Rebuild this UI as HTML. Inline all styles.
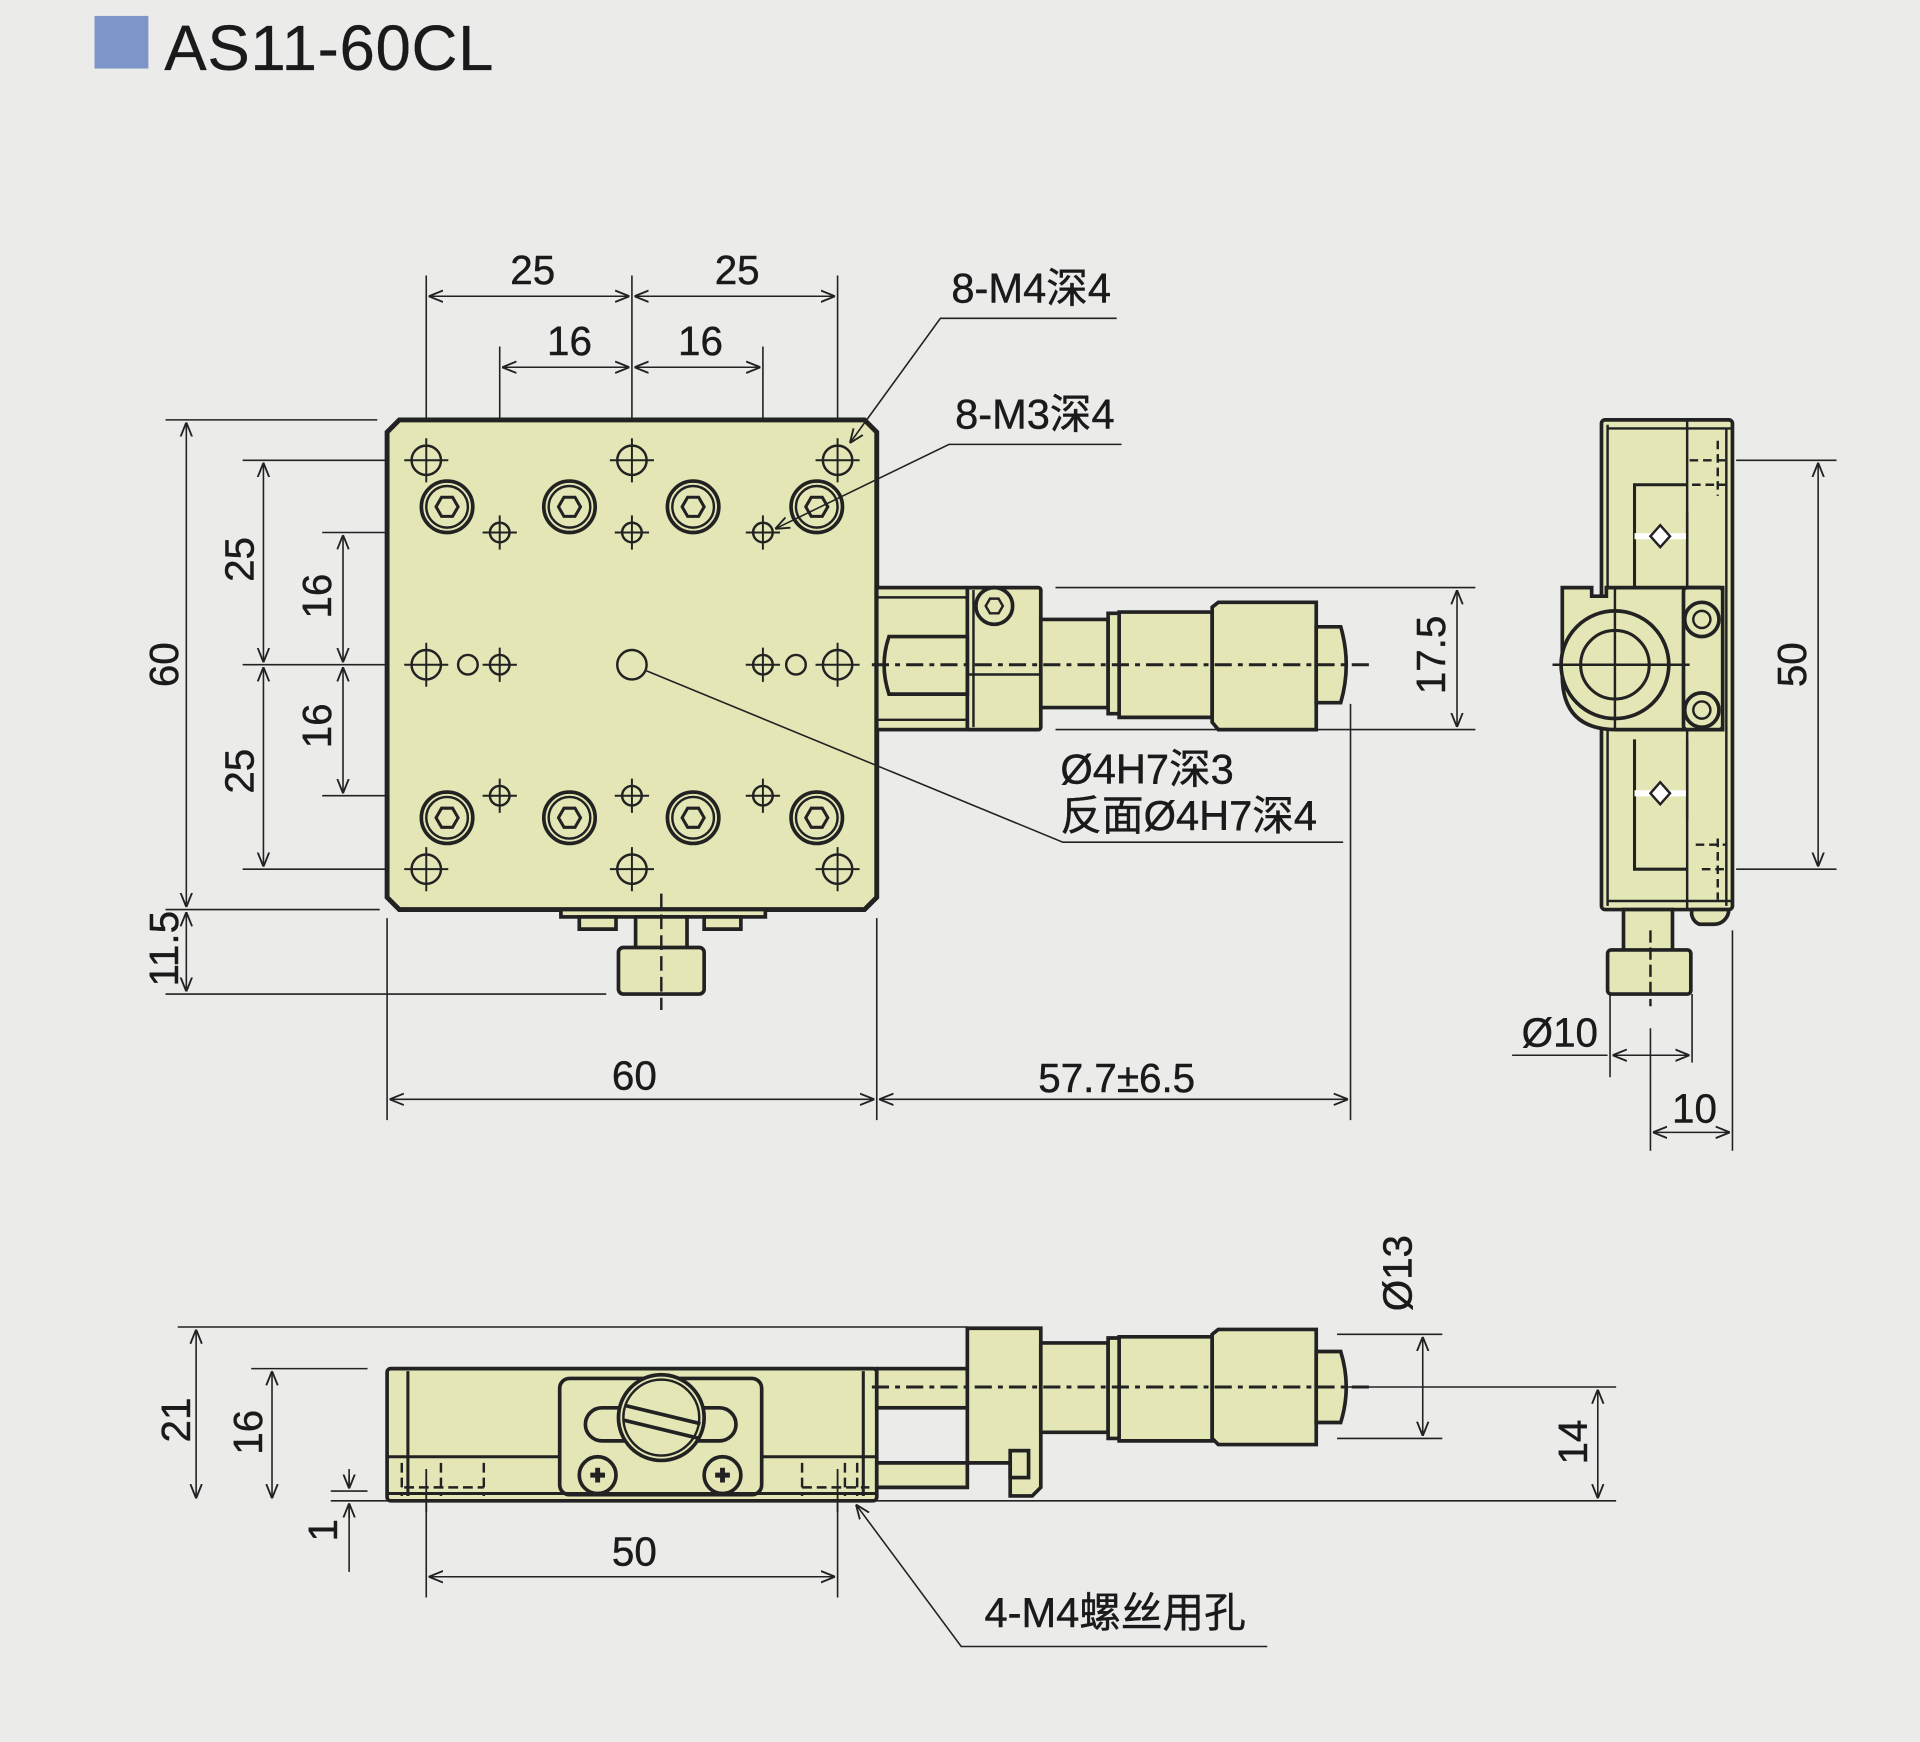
<!DOCTYPE html>
<html><head><meta charset="utf-8"><style>
html,body{margin:0;padding:0;background:#ebebea;}
svg{display:block}
text{font-family:"Liberation Sans","Noto Sans CJK SC",sans-serif;fill:#1a1a1a;stroke:#1a1a1a;stroke-width:0.35}
</style></head><body>
<svg width="1920" height="1742" viewBox="0 0 1568 1423" xmlns="http://www.w3.org/2000/svg">
<defs>
<marker id="a" viewBox="0 0 10 10" refX="10" refY="5" markerWidth="9" markerHeight="9" orient="auto-start-reverse"><path d="M0,1 L10,5 L0,9" fill="none" stroke="#222" stroke-width="1.3"/></marker>
<g id="cap"><circle r="21" fill="#e4e6b6" stroke="#222" stroke-width="3"/><circle r="17" fill="none" stroke="#222" stroke-width="2"/><polygon points="9,0 4.5,7.8 -4.5,7.8 -9,0 -4.5,-7.8 4.5,-7.8" fill="none" stroke="#222" stroke-width="2.5"/></g>
<g id="m4"><circle r="12" fill="none" stroke="#222" stroke-width="2"/><path d="M-18,0H18M0,-18V18" stroke="#222" stroke-width="1.6"/></g>
<g id="m3"><circle r="8" fill="none" stroke="#222" stroke-width="2"/><path d="M-14,0H14M0,-14V14" stroke="#222" stroke-width="1.6"/></g>
</defs>
<rect width="1568" height="1423" fill="#ebebea"/>
<rect x="77" y="13" width="44" height="43" fill="#7d95c8"/>
<text x="134" y="57" font-size="52" letter-spacing="0.5" style="stroke-width:0.2">AS11-60CL</text>

<g stroke="#222" fill="none" stroke-width="1.3">
<path d="M348,225V376M516,225V543M684,225V376M408,283V435M623,283V435"/>
<path d="M350,242H514" marker-start="url(#a)" marker-end="url(#a)"/>
<path d="M518,242H682" marker-start="url(#a)" marker-end="url(#a)"/>
<path d="M410,300H514" marker-start="url(#a)" marker-end="url(#a)"/>
<path d="M518,300H621" marker-start="url(#a)" marker-end="url(#a)"/>
<path d="M135,343H308M198,376H348M263,435H408M198,543H348M263,650H408M198,710H348M135,743H310M135,812H495"/>
<path d="M152,345V741" marker-start="url(#a)" marker-end="url(#a)"/>
<path d="M215,378V541" marker-start="url(#a)" marker-end="url(#a)"/>
<path d="M215,545V708" marker-start="url(#a)" marker-end="url(#a)"/>
<path d="M280,437V541" marker-start="url(#a)" marker-end="url(#a)"/>
<path d="M280,545V648" marker-start="url(#a)" marker-end="url(#a)"/>
<path d="M152,745V810" marker-start="url(#a)" marker-end="url(#a)"/>
<path d="M316,750V915M716,750V915M1103,575V915"/>
<path d="M318,898H714" marker-start="url(#a)" marker-end="url(#a)"/>
<path d="M718,898H1101" marker-start="url(#a)" marker-end="url(#a)"/>
<path d="M862,480H1205M862,596H1205"/>
<path d="M1190,482V594" marker-start="url(#a)" marker-end="url(#a)"/>
</g>
<g font-size="33" text-anchor="middle">
<text x="435" y="232">25</text><text x="602" y="232">25</text>
<text x="465" y="290">16</text><text x="572" y="290">16</text>
<text x="518" y="890">60</text><text x="912" y="892">57.7±6.5</text>
<text transform="translate(145,543) rotate(-90)">60</text>
<text transform="translate(207,457) rotate(-90)">25</text>
<text transform="translate(207,630) rotate(-90)">25</text>
<text transform="translate(270,487) rotate(-90)">16</text>
<text transform="translate(270,593) rotate(-90)">16</text>
<text transform="translate(145,775) rotate(-90)">11.5</text>
<text transform="translate(1180,535) rotate(-90)">17.5</text>
</g>
<g font-size="34">
<text x="777" y="247">8-M4深4</text>
<text x="780" y="350">8-M3深4</text>
<text x="866" y="640">Ø4H7深3</text>
<text x="866" y="678">反面Ø4H7深4</text>
</g>

<path d="M326,343H706L716,353V733L706,743H326L316,733V353Z" fill="#e4e6b6" stroke="#222" stroke-width="4"/>
<use href="#m4" x="348" y="376"/><use href="#m4" x="516" y="376"/><use href="#m4" x="684" y="376"/>
<use href="#m4" x="348" y="710"/><use href="#m4" x="516" y="710"/><use href="#m4" x="684" y="710"/>
<use href="#m4" x="348" y="543"/><use href="#m4" x="684" y="543"/>
<use href="#m3" x="408" y="435"/><use href="#m3" x="516" y="435"/><use href="#m3" x="623" y="435"/>
<use href="#m3" x="408" y="650"/><use href="#m3" x="516" y="650"/><use href="#m3" x="623" y="650"/>
<use href="#m3" x="408" y="543"/><use href="#m3" x="623" y="543"/>
<use href="#cap" x="365" y="414"/><use href="#cap" x="465" y="414"/><use href="#cap" x="566" y="414"/><use href="#cap" x="667" y="414"/>
<use href="#cap" x="365" y="668"/><use href="#cap" x="465" y="668"/><use href="#cap" x="566" y="668"/><use href="#cap" x="667" y="668"/>
<circle cx="382" cy="543" r="8" fill="none" stroke="#222" stroke-width="2"/>
<circle cx="650" cy="543" r="8" fill="none" stroke="#222" stroke-width="2"/>
<circle cx="516" cy="543" r="12" fill="none" stroke="#222" stroke-width="2"/>
<g stroke="#222" fill="none" stroke-width="1.3">
<path d="M912,260H768L694,362" marker-end="url(#a)"/>
<path d="M916,363H775L633,432" marker-end="url(#a)"/>
<path d="M1097,688H868L528,548"/>
</g>
<g fill="#e4e6b6" stroke="#222" stroke-width="3">
<rect x="458" y="743" width="167" height="6"/>
<path d="M473,749h30v10h-30z M575,749h30v10h-30z"/>
<rect x="519" y="749" width="42" height="27"/>
<rect x="505" y="774" width="70" height="38" rx="4"/>
</g>
<path d="M540,730V825" stroke="#222" stroke-width="2" stroke-dasharray="12,5"/>
<g fill="#e4e6b6" stroke="#222" stroke-width="3">
<rect x="716" y="480" width="74" height="116"/>
<rect x="790" y="480" width="60" height="116" rx="2"/>
<path d="M850,506H905V578H850Z"/>
<path d="M905,501H914V583H905Z M914,500H990V586H914Z"/>
<path d="M990,496L995,492H1075V596H995L990,590Z"/>
<path d="M1075,512H1095Q1104,543 1095,574H1075Z"/>
<path d="M726,520H790V567H726Q718,543 726,520Z" />
</g>
<path d="M716,488H790M716,588H790M795,482V594M790,551H850" stroke="#222" stroke-width="2" fill="none"/>
<circle cx="812" cy="495" r="15" fill="#e4e6b6" stroke="#222" stroke-width="3"/>
<polygon points="819,495 815.5,501 808.5,501 805,495 808.5,489 815.5,489" fill="none" stroke="#222" stroke-width="2"/>
<path d="M712,543H1118" stroke="#222" stroke-width="2.5" stroke-dasharray="14,5,4,5"/>

<g fill="#e4e6b6" stroke="#222" stroke-width="3">
<rect x="1308" y="343" width="107" height="400" rx="3"/>
<rect x="1326" y="743" width="40" height="35"/>
<rect x="1313" y="776" width="68" height="36" rx="3"/>
<path d="M1382,743h30a12,12 0 0 1 -12,12h-12a10,10 0 0 1 -6,-12z"/>
</g>
<path d="M1312,350H1415M1312,736H1415M1313,347V740M1378,343V743M1410,350V740" stroke="#222" stroke-width="2" fill="none"/>
<path d="M1335,480V396H1378M1335,604V710H1378" stroke="#222" stroke-width="2.5" fill="none"/>
<path d="M1378,418V480M1378,604V670" stroke="#222" stroke-width="2" fill="none"/>
<path d="M1335,438h42M1335,648h42" stroke="#fff" stroke-width="5"/>
<path d="M1348,438l8,-9 8,9 -8,9z M1348,648l8,-9 8,9 -8,9z" fill="#fff" stroke="#222" stroke-width="2"/>
<path d="M1380,376H1410M1382,396H1410M1390,710H1410M1385,690H1410M1403,360V405M1403,685V735" stroke="#222" stroke-width="2" stroke-dasharray="7,4"/>
<g fill="#e4e6b6" stroke="#222" stroke-width="3">
<path d="M1276,480H1300V487H1312V480H1407V596H1320Q1276,596 1276,552Z"/>
<rect x="1375" y="480" width="32" height="116" rx="3"/>
</g>
<circle cx="1319" cy="543" r="44" fill="#e4e6b6" stroke="#222" stroke-width="3"/>
<circle cx="1319" cy="543" r="28" fill="none" stroke="#222" stroke-width="2.5"/>
<circle cx="1390" cy="506" r="14" fill="#e4e6b6" stroke="#222" stroke-width="3"/><circle cx="1390" cy="506" r="7" fill="none" stroke="#222" stroke-width="2"/>
<circle cx="1390" cy="580" r="14" fill="#e4e6b6" stroke="#222" stroke-width="3"/><circle cx="1390" cy="580" r="7" fill="none" stroke="#222" stroke-width="2"/>
<path d="M1268,543H1380M1319,480V596" stroke="#222" stroke-width="2"/>
<path d="M1348,760V822" stroke="#222" stroke-width="2" stroke-dasharray="10,4"/>
<g stroke="#222" fill="none" stroke-width="1.3">
<path d="M1418,376H1500M1418,710H1500"/>
<path d="M1485,378V708" marker-start="url(#a)" marker-end="url(#a)"/>
<path d="M1315,812V880M1382,812V868M1348,840V940M1415,760V940"/>
<path d="M1235,862H1313" /><path d="M1317,862H1380" marker-start="url(#a)" marker-end="url(#a)"/>
<path d="M1350,925H1413" marker-start="url(#a)" marker-end="url(#a)"/>
</g>
<g font-size="33" text-anchor="middle">
<text transform="translate(1475,543) rotate(-90)">50</text>
<text x="1274" y="855">Ø10</text>
<text x="1384" y="917">10</text>
</g>

<g stroke="#222" fill="none" stroke-width="1.3">
<path d="M145,1084H790M205,1118H300M270,1226H1320M1092,1090H1178M1092,1175H1178M1100,1133H1320"/>
<path d="M160,1086V1224" marker-start="url(#a)" marker-end="url(#a)"/>
<path d="M222,1120V1224" marker-start="url(#a)" marker-end="url(#a)"/>
<path d="M270,1218H300M285,1200V1216M285,1228V1284" /><path d="M285,1205V1216" marker-end="url(#a)"/><path d="M285,1240V1228" marker-end="url(#a)"/>
<path d="M348,1226V1305M684,1226V1305"/>
<path d="M350,1288H682" marker-start="url(#a)" marker-end="url(#a)"/>
<path d="M1162,1092V1173" marker-start="url(#a)" marker-end="url(#a)"/>
<path d="M1305,1135V1224" marker-start="url(#a)" marker-end="url(#a)"/>
</g>
<g font-size="33" text-anchor="middle">
<text transform="translate(155,1160) rotate(-90)">21</text>
<text transform="translate(214,1170) rotate(-90)">16</text>
<text transform="translate(275,1250) rotate(-90)">1</text>
<text x="518" y="1279">50</text>
<text transform="translate(1153,1040) rotate(-90)">Ø13</text>
<text transform="translate(1296,1178) rotate(-90)">14</text>
</g>
<text x="804" y="1329" font-size="34">4-M4螺丝用孔</text>
<g fill="#e4e6b6" stroke="#222" stroke-width="3">
<rect x="316" y="1118" width="400" height="108" rx="3"/>
<rect x="716" y="1118" width="74" height="32"/>
<path d="M716,1195H790V1215H716Z"/>
<path d="M790,1085H850V1215L843,1222H825V1195H790Z"/>
<path d="M850,1097H905V1170H850Z"/>
<path d="M905,1093H914V1175H905Z M914,1092H990V1177H914Z"/>
<path d="M990,1090L995,1086H1075V1180H995L990,1175Z"/>
<path d="M1075,1104H1095Q1104,1133 1095,1162H1075Z"/>
<rect x="825" y="1185" width="15" height="22"/>
<rect x="457" y="1126" width="165" height="95" rx="8"/>
<rect x="478" y="1150" width="123" height="27" rx="13.5"/>
</g>
<circle cx="540" cy="1158" r="35" fill="#e4e6b6" stroke="#222" stroke-width="3"/>
<circle cx="540" cy="1158" r="31" fill="none" stroke="#222" stroke-width="2"/>
<path d="M510,1148L572,1163M509,1160L571,1175" stroke="#222" stroke-width="3"/>
<path d="M316,1190H457M622,1190H716M316,1220H716M333,1120V1222M705,1120V1222" stroke="#222" stroke-width="2.5" fill="none"/>
<path d="M328,1195V1222M360,1195V1222M395,1195V1222M655,1195V1222M690,1195V1222M700,1195V1222M330,1215H395M655,1215H710" stroke="#222" stroke-width="2" stroke-dasharray="8,4"/>
<path d="M348,1200V1235M684,1200V1235" stroke="#222" stroke-width="1.5"/>
<circle cx="488" cy="1205" r="15" fill="#e4e6b6" stroke="#222" stroke-width="3"/>
<circle cx="590" cy="1205" r="15" fill="#e4e6b6" stroke="#222" stroke-width="3"/>
<path d="M482,1205h12M488,1199v12M584,1205h12M590,1199v12" stroke="#222" stroke-width="4"/>
<path d="M712,1133H1118" stroke="#222" stroke-width="2.5" stroke-dasharray="14,5,4,5"/>
<path d="M1035,1345H785L699,1229" stroke="#222" fill="none" stroke-width="1.3" marker-end="url(#a)"/>
</svg>
</body></html>
